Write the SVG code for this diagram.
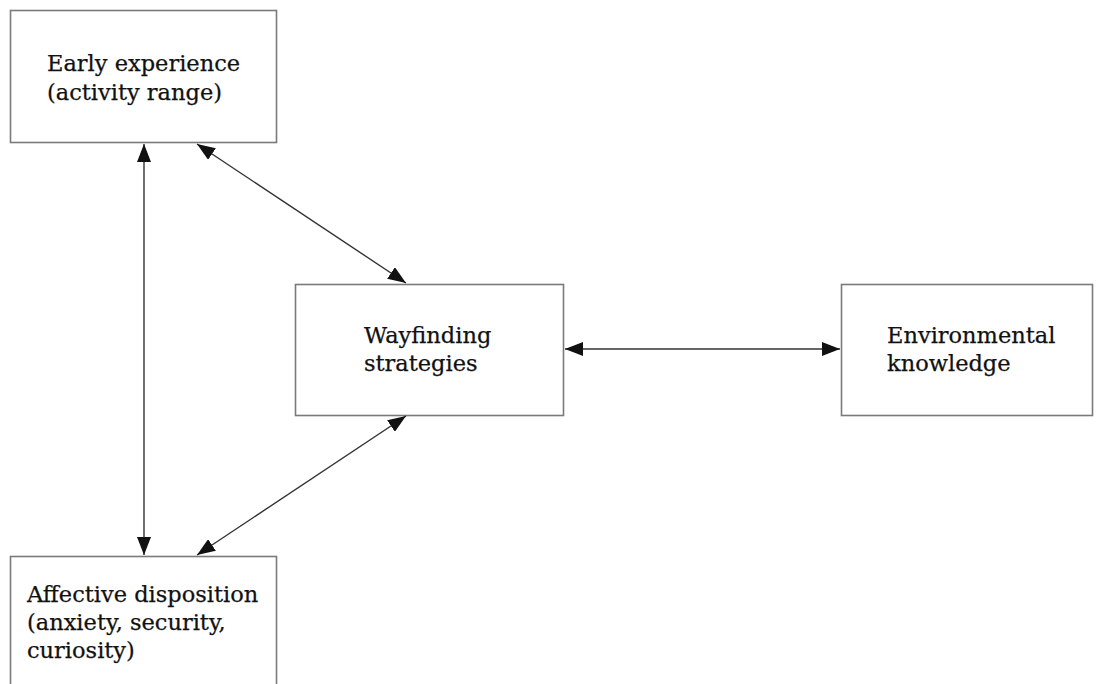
<svg xmlns="http://www.w3.org/2000/svg" width="1099" height="684" viewBox="0 0 1099 684">
<style>
.box{fill:#fff;stroke:#7a7a7a;stroke-width:1.6}
.lbl{font-family:"DejaVu Serif","Liberation Serif",serif;font-size:22.5px;fill:#111;stroke:#111;stroke-width:0.25}
.con{stroke:#333;stroke-width:1.4;fill:none;marker-start:url(#ah);marker-end:url(#ah)}
</style>
<defs>
<marker id="ah" viewBox="0 0 18 14" markerWidth="18" markerHeight="14" refX="18" refY="7" orient="auto-start-reverse" markerUnits="userSpaceOnUse">
<path d="M0,0 L18,7 L0,14 z" fill="#111"/>
</marker>
</defs>
<rect width="1099" height="684" fill="#fff"/>
<g id="early">
<rect class="box" x="10.5" y="10.5" width="266" height="132"/>
<text class="lbl" x="47" y="71">Early experience</text>
<text class="lbl" x="47" y="100">(activity range)</text>
</g>
<g id="wayfinding">
<rect class="box" x="295.5" y="284.5" width="268" height="131"/>
<text class="lbl" x="364" y="343">Wayfinding</text>
<text class="lbl" x="364" y="371">strategies</text>
</g>
<g id="environmental">
<rect class="box" x="841.5" y="284.5" width="251" height="131"/>
<text class="lbl" x="887" y="343">Environmental</text>
<text class="lbl" x="887" y="371">knowledge</text>
</g>
<g id="affective">
<rect class="box" x="10.5" y="556.5" width="266" height="140"/>
<text class="lbl" x="27" y="602">Affective disposition</text>
<text class="lbl" x="27" y="630">(anxiety, security,</text>
<text class="lbl" x="27" y="658">curiosity)</text>
</g>
<g id="connectors">
<line class="con" x1="144" y1="144" x2="144" y2="555"/>
<line class="con" x1="197" y1="144" x2="406" y2="283"/>
<line class="con" x1="406" y1="416" x2="197" y2="555"/>
<line class="con" x1="565" y1="349" x2="840" y2="349"/>
</g>
</svg>
